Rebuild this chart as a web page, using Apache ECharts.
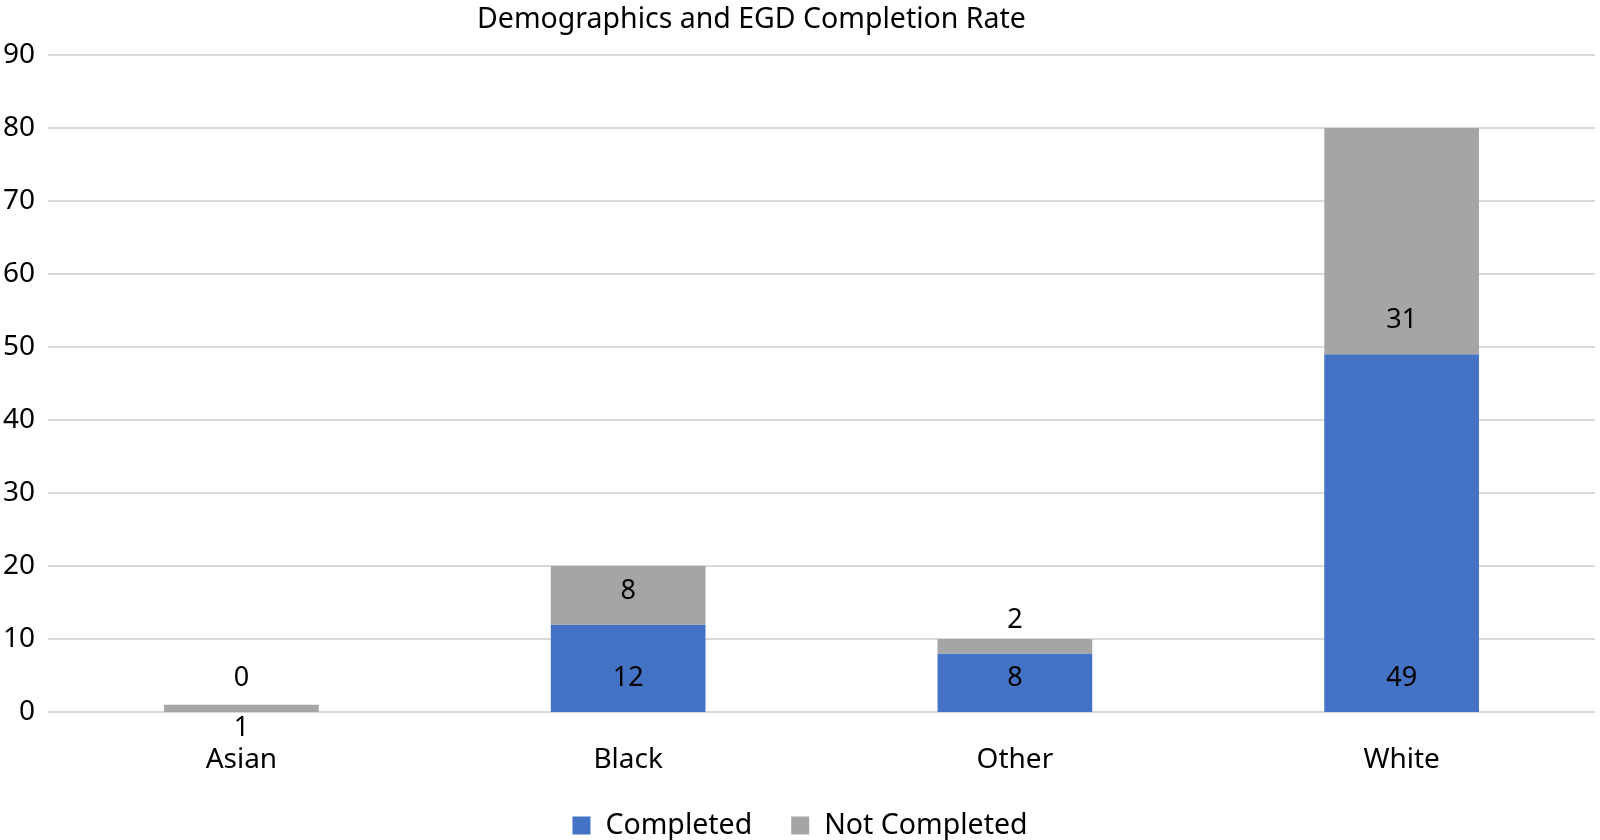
<!DOCTYPE html>
<html><head><meta charset="utf-8">
<script src="https://cdn.jsdelivr.net/npm/echarts@6/dist/echarts.min.js"></script>
<style>html,body{margin:0;padding:0;background:#fff}#c{width:1600px;height:840px}</style>
</head><body><div id="c"></div>
<script>
const categories = ['Asian', 'Black', 'Other', 'White'];
const completed = [0, 12, 8, 49];
const notCompleted = [1, 8, 2, 31];
const yTicks = [0, 10, 20, 30, 40, 50, 60, 70, 80, 90];

const FONT = 'Noto Sans';
const chart = echarts.init(document.getElementById('c'));
const labelBase = {show: true, position: 'insideBottom', distance: 20, color: '#000', fontSize: 27, fontFamily: FONT};
chart.setOption({
  animation: false,
  title: {text: 'Demographics and EGD Completion Rate', left: 472, top: 0,
    textStyle: {fontSize: 28.5, fontWeight: 'normal', color: '#000', fontFamily: FONT}},
  grid: {left: 47, right: 5, top: 55, bottom: 128, containLabel: false},
  legend: {top: 806, left: 'center', itemWidth: 18, itemHeight: 18, itemGap: 39, icon: 'rect',
    textStyle: {fontSize: 28.5, color: '#000', fontFamily: FONT, padding: [0, 0, 0, 10]}},
  xAxis: {type: 'category', data: categories,
    axisLine: {show: false}, axisTick: {show: false},
    axisLabel: {fontSize: 28, color: '#000', fontFamily: FONT, margin: 34}},
  yAxis: {type: 'value', min: yTicks[0], max: yTicks[yTicks.length - 1], interval: 10,
    axisLine: {show: false}, axisTick: {show: false},
    axisLabel: {fontSize: 28, color: '#000', fontFamily: FONT, margin: 13},
    splitLine: {lineStyle: {color: '#d9d9d9', width: 2}}},
  series: [
    {name: 'Completed', type: 'bar', stack: 's', barWidth: '40%',
      itemStyle: {color: '#4472C4'}, label: labelBase,
      data: completed},
    {name: 'Not Completed', type: 'bar', stack: 's', barWidth: '40%',
      itemStyle: {color: '#A5A5A5'}, label: labelBase,
      data: notCompleted.map((v, i) => i === 0 ? {value: v, label: {position: 'bottom', distance: 3}} : v)}
  ]
});
</script></body></html>
